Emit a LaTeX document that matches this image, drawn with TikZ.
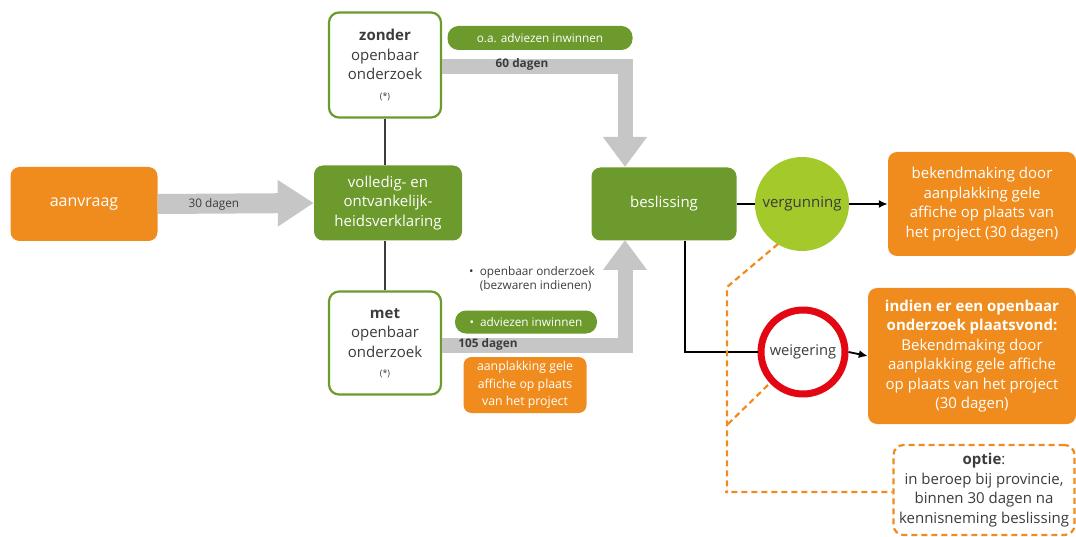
\documentclass[tikz,border=0pt]{standalone}
\usepackage{fontspec}
\setmainfont{Open Sans}
\usetikzlibrary{arrows.meta,calc}
\definecolor{org}{HTML}{F08C1E}
\definecolor{dgreen}{HTML}{6C9A2C}
\definecolor{lgreen}{HTML}{A3C92A}
\definecolor{garrow}{HTML}{C6C6C6}
\definecolor{txt}{HTML}{3C3C3C}
\definecolor{wred}{HTML}{E30613}
\tikzset{
  obox/.style={fill=org, rounded corners=9pt, text=white, align=center, font=\fontsize{15}{19.5}\selectfont, inner sep=0pt},
  gbox/.style={fill=dgreen, rounded corners=9pt, text=white, align=center, font=\fontsize{15}{19.5}\selectfont, inner sep=0pt},
  wbox/.style={draw=dgreen, line width=2.2pt, fill=white, rounded corners=10pt, text=txt, align=center, font=\fontsize{15}{19.5}\selectfont, inner sep=0pt, minimum width=112pt, minimum height=105pt},
  pill/.style={fill=dgreen, rounded corners=11pt, text=white, font=\fontsize{11.8}{14}\selectfont, inner sep=0pt},
  small/.style={text=txt, font=\fontsize{11.8}{14}\selectfont, inner sep=0pt},
  bigarrow/.style={draw=garrow, line width=15pt, -{Triangle[width=42pt,length=30pt]}},
  thin/.style={draw=txt, line width=1.2pt},
  blk/.style={draw=black, line width=1.8pt},
  blkarrow/.style={draw=black, line width=1.8pt, -{Latex[length=9pt,width=8pt]}},
  odash/.style={draw=org, line width=2.2pt, dash pattern=on 6pt off 4pt},
}
\begin{document}
\begin{tikzpicture}[x=1pt,y=-1pt]
\useasboundingbox (0,0) rectangle (1076,537);
% nodes
\node[obox, minimum width=147pt, minimum height=74pt, font=\fontsize{16}{19}\selectfont] (aanvraag) at (84,204) {aanvraag};
\node[gbox, minimum width=148pt, minimum height=75pt] (volledig) at (388,203) {volledig- en\\ontvankelijk-\\heidsverklaring};
\node[wbox] (zonder) at (385,65) {\textbf{zonder}\\openbaar\\onderzoek\\{\fontsize{9}{12}\selectfont(*)}};
\node[wbox, minimum height=103pt] (met) at (385,343) {\textbf{met}\\openbaar\\onderzoek\\{\fontsize{9}{12}\selectfont(*)}};
\node[gbox, minimum width=145pt, minimum height=73pt] (beslissing) at (664,204) {beslissing};
\node[pill, minimum width=185pt, minimum height=24pt] (advz) at (540,38) {o.a. adviezen inwinnen};
\node[pill, minimum width=142pt, minimum height=23pt] (advm) at (526,322) {\textbullet\ \ adviezen inwinnen};
\node[small, align=left] (openb) at (532,279) {\textbullet\ \ openbaar onderzoek\\\phantom{\textbullet\ \ }(bezwaren indienen)};
\node[obox, rounded corners=8pt, minimum width=123pt, minimum height=56pt, font=\fontsize{12.3}{17.5}\selectfont] (aanpl) at (525,385) {aanplakking gele\\affiche op plaats\\van het project};
\node[circle, fill=lgreen, minimum size=94pt, inner sep=0pt, text=txt, font=\fontsize{15}{16}\selectfont] (verg) at (802,204) {vergunning};
\node[circle, draw=wred, line width=7pt, fill=white, minimum size=84pt, inner sep=0pt, text=txt, font=\fontsize{14.7}{16}\selectfont] (weig) at (803,352) {weigering};
\node[obox, minimum width=188pt, minimum height=104pt] (bek1) at (982,204) {bekendmaking door\\aanplakking gele\\affiche op plaats van\\het project (30 dagen)};
\node[obox, minimum width=208pt, minimum height=136pt] (bek2) at (972,356) {\textbf{indien er een openbaar}\\\textbf{onderzoek plaatsvond:}\\Bekendmaking door\\aanplakking gele affiche\\op plaats van het project\\(30 dagen)};
\node[draw=org, line width=2.2pt, dash pattern=on 6pt off 4pt, rounded corners=10pt, fill=white, minimum width=181pt, minimum height=90pt, inner sep=0pt, align=center, text=txt, font=\fontsize{15}{19.5}\selectfont] (optie) at (984,490) {\textbf{optie}:\\in beroep bij provincie,\\binnen 30 dagen na\\kennisneming beslissing};
% coordinates
\coordinate (bz) at (625,167);
\coordinate (bm) at (625,240);
\coordinate (wcorner) at (685,352);
\coordinate (d1) at (778,244);
\coordinate (d2) at (727,287);
\coordinate (d3) at (768,385);
\coordinate (d4) at (727,425);
\coordinate (d5) at (725,492);
% connectors
\draw[thin] (zonder.south) -- (volledig.north -| zonder.south);
\draw[thin] (volledig.south -| met.north) -- (met.north);
\draw[bigarrow, line width=20pt, -{Triangle[width=44pt,length=36pt]}] (aanvraag.east) -- node[small, text=txt, pos=0.36, yshift=-1pt] {30 dagen} (volledig.west);
\draw[bigarrow] (zonder.east |- 0,67) -| (bz);
\draw[bigarrow] (met.east |- 0,345) -| (bm);
\node[small, font=\bfseries\fontsize{11.8}{14}\selectfont] (l60) at (522,64) {60 dagen};
\node[small, font=\bfseries\fontsize{11.8}{14}\selectfont] (l105) at (488,344) {105 dagen};
\draw[blk] (beslissing.east) -- (verg.west);
\draw[blkarrow] (verg.east) -- (bek1.west);
\draw[blk] (beslissing.south -| wcorner) -- (wcorner) -- (weig.west);
\draw[blkarrow] (weig.east) -- (bek2.west);
\draw[odash] (d1) -- (d2) -- (d2 |- d5) -- (d5) -- (optie.west |- d5);
\draw[odash] (d3) -- (d4);
\end{tikzpicture}
\end{document}
